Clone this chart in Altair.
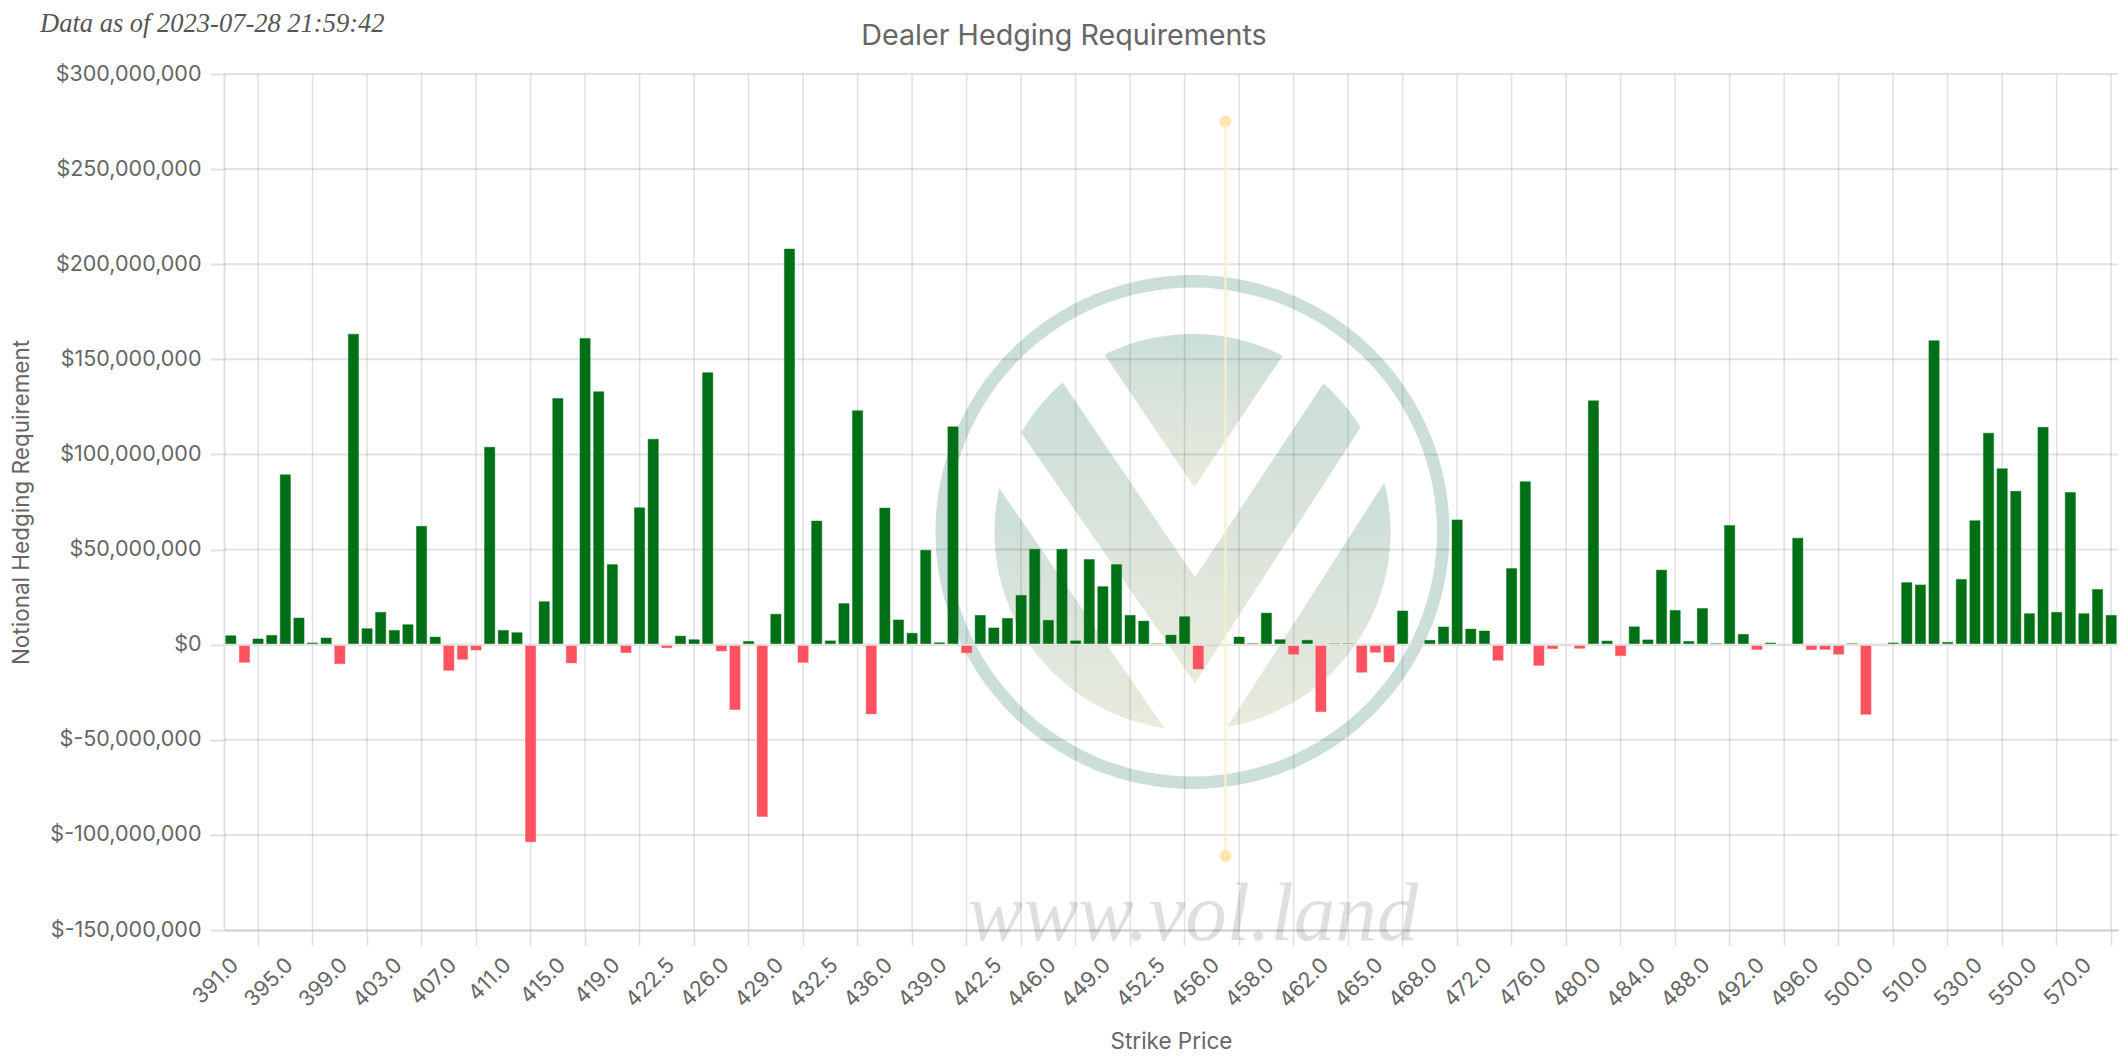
import math
import altair as alt
import pandas as pd

strikes = [391,392,393,394,395,396,397,398,399,400,401,402,403,404,405,406,407,408,409,410,
           411,412,413,414,415,416,417,418,419,420,421,422,422.5,423,424,425,426,427,427.5,428,
           429,430,431,432,432.5,433,434,435,436,437,437.5,438,439,440,441,442,442.5,443,444,445,
           446,447,447.5,448,449,450,451,452,452.5,453,454,455,456,456.5,457,457.5,458,459,460,461,
           462,462.5,463,464,465,466,467,467.5,468,469,470,471,472,473,474,475,476,477,478,479,
           480,481,482,483,484,485,486,487,488,489,490,491,492,493,494,495,496,497,498,499,
           500,502,505,507,510,515,520,525,530,535,540,545,550,555,560,565,570,575,580]
hedging_millions = [4.7,-9.3,3,4.9,89.3,14,.9,3.5,-10,163.2,8.4,17,7.5,10.5,62.2,4,-13.5,-7.7,-2.8,103.8,
           7.5,6.3,-103.6,22.6,129.4,-9.6,160.9,133,42.1,-4.2,72,108,-1.6,4.5,2.6,143,-3.3,-34.1,1.7,-90.3,
           16,208,-9.3,65,2,21.6,123,-36.4,71.8,13,6,49.6,1,114.5,-4.2,15.4,8.8,13.8,25.9,50.1,
           12.8,50.1,2,44.8,30.5,42.1,15.4,12.4,.4,5,14.7,-12.8,-.5,0,4,.5,16.6,2.6,-5,2.3,
           -35.2,.4,.4,-14.5,-4,-9.1,17.7,-.4,2.3,9.3,65.6,8.2,7.2,-8.2,40,85.7,-10.9,-2.1,-.5,-1.9,
           128.2,1.9,-5.8,9.4,2.5,39.2,18,1.7,19,.5,62.7,5.4,-2.5,.9,-.4,56,-2.6,-2.5,-5,.5,
           -36.6,-.3,.9,32.6,31.4,159.8,1.2,34.3,65.2,111.2,92.5,80.6,16.3,114.3,17,80,16.3,29,15.4]
y_ticks = [-150e6,-100e6,-50e6,0,50e6,100e6,150e6,200e6,250e6,300e6]
spot_strike = "456.5"
spot_low, spot_high = -111e6, 275e6

labels = [f"{s:.1f}" for s in strikes]
df = pd.DataFrame({"strike": labels, "value": [v * 1e6 for v in hedging_millions]})

FONT = "Inter"
GRAY = "#666666"
OX, OY = 224, 74
W, H = 1894, 856

xscale = alt.Scale(domain=labels, paddingInner=0.25, paddingOuter=0.125)
yscale = alt.Scale(domain=[-150e6, 300e6], nice=False)

# ---- watermark outlines (page pixels of the logo, shifted to the plot origin)
CX, CY, R = 1192.5, 532.0, 198.0

def arc(p, q):
    a0 = math.atan2(p[1] - CY, p[0] - CX)
    a1 = math.atan2(q[1] - CY, q[0] - CX)
    d = (a1 - a0 + math.pi) % (2 * math.pi) - math.pi
    return [[CX + R * math.cos(a0 + d * t / 40), CY + R * math.sin(a0 + d * t / 40)] for t in range(41)]

def long_arc(p, q, via):
    a = arc(p, via)
    return a + arc(via, q)[1:]

wedge = [[1194.3, 487.3]] + arc((1104.6, 354.7), (1282.5, 356.0))
chevron = (arc((1021.0, 432.7), (1062.9, 382.7)) + [[1195.0, 577.3]]
           + arc((1323.2, 383.7), (1360.0, 427.7)) + [[1195.0, 683.3]])
crescent_l = long_arc((999.0, 488.3), (1164.3, 727.3), (1040.0, 660.0))
crescent_r = long_arc((1384.0, 482.7), (1227.0, 725.7), (1345.0, 660.0))

def feature(points):
    ring = [[x - OX, y - OY] for x, y in points]
    ring.append(ring[0])
    return {"type": "Feature", "properties": {}, "geometry": {"type": "Polygon", "coordinates": [ring]}}

logo = alt.InlineData(
    values={"type": "FeatureCollection", "features": [feature(p) for p in (wedge, chevron, crescent_l, crescent_r)]},
    format=alt.DataFormat(property="features", type="json"),
)
logo_fill = alt.Gradient(
    gradient="linear", x1=0, y1=0, x2=0, y2=1,
    stops=[alt.GradientStop(color="#cbded9", offset=0), alt.GradientStop(color="#e9ebdc", offset=1)],
)

logo_shapes = alt.Chart(logo).mark_geoshape(filled=True, fill=logo_fill, strokeWidth=0).project(
    type="identity", scale=1, translate=[0, 0]
)
logo_ring = alt.Chart(pd.DataFrame({"a": [0]})).mark_arc(
    innerRadius=244.5, outerRadius=257, theta=0, theta2=2 * math.pi, color="#cbded9"
).encode(x=alt.value(CX - OX), y=alt.value(CY - OY))
logo_text = alt.Chart(pd.DataFrame({"t": ["www.vol.land"]})).mark_text(
    font="Liberation Serif", fontStyle="italic", fontSize=83, color="#000000", opacity=0.12,
    align="center", baseline="alphabetic",
).encode(text="t:N", x=alt.value(1193 - OX), y=alt.value(939.5 - OY))

as_of = alt.Chart(pd.DataFrame({"t": ["Data as of 2023-07-28 21:59:42"]})).mark_text(
    font="Liberation Serif", fontStyle="italic", fontSize=26.5, color="#555555",
    align="left", baseline="alphabetic",
).encode(text="t:N", x=alt.value(40 - OX), y=alt.value(32 - OY))

main_title = alt.Chart(pd.DataFrame({"t": ["Dealer Hedging Requirements"]})).mark_text(
    font=FONT, fontSize=28.7, color=GRAY, align="center", baseline="middle",
).encode(text="t:N", x=alt.value(1064 - OX), y=alt.value(36 - OY))

# ---- grid, drawn above the watermark and under the bars
vgrid = alt.Chart(pd.DataFrame({"strike": labels[2::4]})).mark_rule(
    color="#000000", opacity=0.115, strokeWidth=1.6
).encode(
    x=alt.X("strike:N", sort=None, scale=xscale, title=None, axis=alt.Axis(
        orient="bottom", values=labels[2::4], labels=False, domain=False, grid=False, title=None,
        ticks=True, tickSize=16, tickColor="#e0e0e0", tickWidth=1.6,
    )),
)
hgrid = alt.Chart(pd.DataFrame({"value": y_ticks[1:]})).mark_rule(
    color="#000000", opacity=0.11, strokeWidth=2
).encode(y=alt.Y("value:Q", scale=yscale, axis=None))

bars = alt.Chart(df).mark_bar(strokeWidth=1, strokeOpacity=0.45).encode(
    x=alt.X("strike:N", sort=None, scale=xscale, axis=alt.Axis(
        orient="bottom",
        title="Strike Price", titleFont=FONT, titleFontSize=22.5, titleFontWeight="normal", titleColor=GRAY,
        titleY=111.5, titleBaseline="middle",
        values=labels[0::4], ticks=False, grid=False, domainColor="#cccccc", domainWidth=2,
        labelAngle=315, labelAlign="right", labelBaseline="top", labelPadding=24, labelOffset=-3,
        labelFont=FONT, labelFontSize=21.5, labelColor=GRAY, labelOverlap=False,
    )),
    y=alt.Y("value:Q", stack=None, scale=yscale, axis=alt.Axis(
        orient="left",
        title="Notional Hedging Requirement", titleFont=FONT, titleFontSize=22.5, titleFontWeight="normal",
        titleColor=GRAY, titleX=-203, titleBaseline="middle",
        values=y_ticks, grid=False, domainColor="#e0e0e0", domainWidth=2,
        tickSize=14, tickColor="#e0e0e0", tickWidth=2, labelPadding=9,
        labelFont=FONT, labelFontSize=21.5, labelColor=GRAY,
        labelExpr="(datum.value < 0 ? '$-' : '$') + format(abs(datum.value), ',')",
    )),
    fill=alt.condition(alt.datum.value >= 0, alt.value("#007016"), alt.value("#ff5260")),
    stroke=alt.condition(alt.datum.value >= 0, alt.value("#007016"), alt.value("#ff5260")),
)
zero = alt.Chart(pd.DataFrame({"value": [0]})).mark_rule(color="#e4e4e4", strokeWidth=2).encode(
    y=alt.Y("value:Q", scale=yscale, axis=None)
)

spot_x = alt.X("strike:N", sort=None, scale=xscale, axis=None)
spot_line = alt.Chart(pd.DataFrame({"strike": [spot_strike], "lo": [spot_low], "hi": [spot_high]})).mark_rule(
    color="#fdeeca", strokeWidth=2
).encode(x=spot_x, y=alt.Y("lo:Q", scale=yscale, axis=None), y2="hi:Q")
spot_ends = alt.Chart(pd.DataFrame({"strike": [spot_strike] * 2, "value": [spot_low, spot_high]})).mark_point(
    filled=True, size=143, color="#ffe6b0", opacity=1
).encode(x=spot_x, y=alt.Y("value:Q", scale=yscale, axis=None))

chart = alt.layer(
    logo_ring, logo_shapes, logo_text, vgrid, hgrid, bars, zero, spot_line, spot_ends, as_of, main_title
).resolve_axis(x="independent", y="independent").properties(
    width=W, height=H,
    autosize=alt.AutoSizeParams(type="none"),
    padding={"left": OX - 8, "top": OY - 8, "right": 2, "bottom": 124},
).configure_view(strokeWidth=0)

chart.save("out.html", embed_options={"renderer": "svg", "actions": False})
